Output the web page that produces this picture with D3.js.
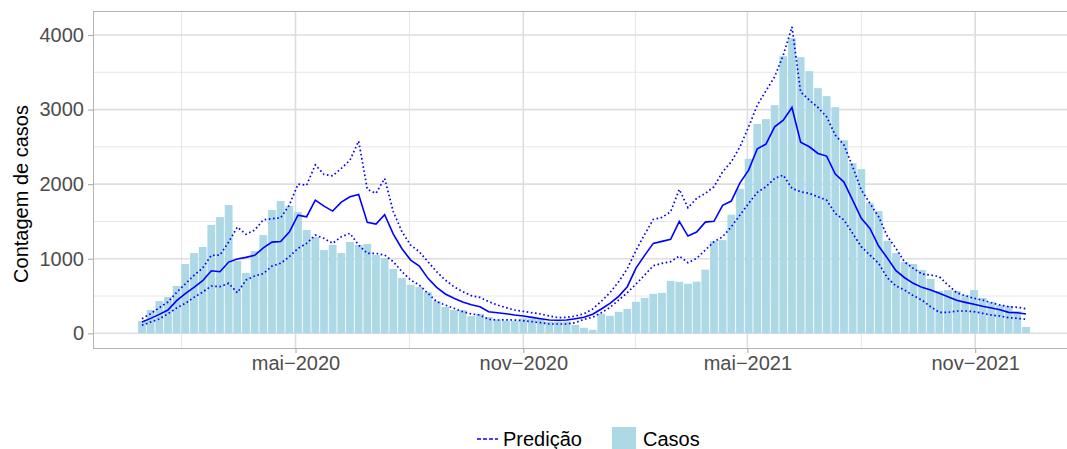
<!DOCTYPE html>
<html>
<head>
<meta charset="utf-8">
<script src="https://cdn.jsdelivr.net/npm/d3@7"></script>
<style>
  body { margin: 0; background: #fff; }
  text { font-family: "Liberation Sans", Arial, sans-serif; }
</style>
</head>
<body>
<div id="chart"></div>
<script>
// Data (weekly, epi weeks starting 2019-12-29)
const firstWeek = '2019-12-29';

const casos = [165, 312, 433, 487, 634, 929, 1076, 1157, 1452, 1559,
    1720, 969, 808, 1103, 1317, 1653, 1774, 1706, 1626, 1385,
    1291, 1117, 1184, 1076, 1224, 1184, 1197, 1050, 1010, 862,
    741, 648, 621, 554, 433, 353, 312, 312, 232, 259,
    219, 185, 170, 168, 200, 196, 196, 154, 158, 158,
    114, 74, 47, 261, 234, 288, 328, 422, 475, 529,
    542, 703, 690, 665, 692, 853, 1235, 1250, 1590, 1938,
    2340, 2807, 2872, 3059, 3716, 3957, 3703, 3515, 3287, 3180,
    3032, 2590, 2282, 2202, 1746, 1639, 1240, 1076, 956, 929,
    848, 728, 567, 580, 567, 513, 580, 473, 420, 380,
    366, 299, 85];

const predicao = [151, 200, 254, 312, 437, 531, 616, 705, 839, 825,
    955, 996, 1018, 1045, 1145, 1223, 1232, 1357, 1585, 1563,
    1786, 1706, 1639, 1759, 1831, 1862, 1487, 1465, 1590, 1331,
    1134, 982, 902, 737, 616, 527, 469, 420, 383, 356,
    290, 276, 263, 245, 232, 214, 196, 178, 174, 178,
    196, 214, 255, 326, 402, 496, 625, 875, 1045, 1206,
    1233, 1260, 1501, 1304, 1357, 1491, 1501, 1715, 1773, 2018,
    2188, 2475, 2537, 2769, 2858, 3028, 2563, 2501, 2412, 2376,
    2135, 2028, 1786, 1541, 1407, 1170, 1010, 839, 745, 670,
    616, 580, 536, 490, 442, 415, 389, 362, 339, 316,
    281, 276, 259];

const superior = [196, 263, 343, 420, 549, 661, 777, 875, 1045, 1049,
    1223, 1424, 1327, 1384, 1522, 1536, 1549, 1719, 2000, 1987,
    2259, 2130, 2112, 2211, 2322, 2577, 1930, 1876, 2077, 1630,
    1362, 1183, 1093, 960, 826, 714, 625, 558, 505, 482,
    424, 379, 345, 312, 294, 276, 259, 232, 210, 214,
    232, 263, 326, 429, 544, 692, 866, 1110, 1326, 1527,
    1554, 1630, 1930, 1683, 1809, 1876, 1965, 2166, 2300, 2501,
    2769, 3060, 3252, 3439, 3730, 4109, 3238, 3127, 3028, 2903,
    2658, 2524, 2233, 1921, 1742, 1563, 1300, 1139, 955, 871,
    795, 781, 759, 647, 544, 504, 469, 446, 410, 379,
    356, 348, 330];

const inferior = [107, 151, 192, 263, 339, 402, 482, 553, 634, 625,
    670, 544, 714, 768, 800, 902, 938, 1027, 1139, 1206,
    1317, 1273, 1206, 1295, 1340, 1183, 1072, 1072, 1049, 960,
    826, 714, 647, 536, 424, 379, 335, 290, 259, 245,
    188, 178, 180, 178, 169, 156, 142, 125, 125, 125,
    142, 188, 214, 276, 348, 446, 544, 660, 781, 906,
    938, 960, 1036, 946, 1005, 1116, 1228, 1295, 1429, 1585,
    1742, 1890, 1965, 2077, 2121, 1943, 1898, 1876, 1831, 1786,
    1608, 1519, 1340, 1161, 1049, 938, 745, 634, 580, 504,
    446, 356, 281, 281, 299, 299, 290, 268, 245, 232,
    210, 201, 188];

const xTickDates = ['2020-05-01', '2020-11-01', '2021-05-01', '2021-11-01'];
const xTickLabels = ['mai\u22122020', 'nov\u22122020', 'mai\u22122021', 'nov\u22122021'];
const yTicks = [0, 1000, 2000, 3000, 4000];
const legendLabels = ['Predi\u00e7\u00e3o', 'Casos'];

function draw() {
    const parse = d3.timeParse('%Y-%m-%d');
    const start = parse(firstWeek);
    const dataset = casos.map((c, i) => ({
        date: d3.timeWeek.offset(start, i),
        casos: c,
        pred: predicao[i],
        sup: superior[i],
        inf: inferior[i]
    }));

    // Dimensions
    let dimensions = {
        width: 1067,
        height: 449,
        panelLeft: 93,
        panelRight: 1075,
        panelTop: 11,
        panelBottom: 348
    };

    const svg = d3.select('#chart')
        .append('svg')
        .attr('width', dimensions.width)
        .attr('height', dimensions.height)
        .style('display', 'block');

    svg.append('rect')
        .attr('width', dimensions.width)
        .attr('height', dimensions.height)
        .attr('fill', '#fff');

    // Scales
    const tickDates = xTickDates.map(parse);
    const xScale = d3.scaleTime()
        .domain([tickDates[0], tickDates[3]])
        .range([295.5, 975.2]);

    const yScale = d3.scaleLinear()
        .domain([0, 4000])
        .range([333.3, 35]);

    // Grid
    const grid = svg.append('g');
    const majX = tickDates.map(d => xScale(d));
    const step = majX[1] - majX[0];
    const minX = [majX[0] - step / 2].concat(majX.map((x, i) => i < majX.length - 1 ? (x + majX[i + 1]) / 2 : x + step / 2));
    const minY = yTicks.map(v => v + 500).concat([-500]);

    grid.selectAll('line.minor-y')
        .data(minY.filter(v => yScale(v) > dimensions.panelTop && yScale(v) < dimensions.panelBottom))
        .join('line')
        .attr('x1', dimensions.panelLeft).attr('x2', dimensions.panelRight)
        .attr('y1', d => yScale(d)).attr('y2', d => yScale(d))
        .attr('stroke', '#e6e6e6').attr('stroke-width', 1);

    grid.selectAll('line.minor-x')
        .data(minX.filter(x => x > dimensions.panelLeft && x < dimensions.panelRight))
        .join('line')
        .attr('x1', d => d).attr('x2', d => d)
        .attr('y1', dimensions.panelTop).attr('y2', dimensions.panelBottom)
        .attr('stroke', '#e6e6e6').attr('stroke-width', 1);

    grid.append('g').selectAll('line')
        .data(yTicks)
        .join('line')
        .attr('x1', dimensions.panelLeft).attr('x2', dimensions.panelRight)
        .attr('y1', d => yScale(d)).attr('y2', d => yScale(d))
        .attr('stroke', '#dedede').attr('stroke-width', 1.6);

    grid.append('g').selectAll('line')
        .data(tickDates)
        .join('line')
        .attr('x1', d => xScale(d)).attr('x2', d => xScale(d))
        .attr('y1', dimensions.panelTop).attr('y2', dimensions.panelBottom)
        .attr('stroke', '#dedede').attr('stroke-width', 1.6);

    // Bars
    const barW = xScale(d3.timeHour.offset(tickDates[0], 24 * 6.3)) - xScale(tickDates[0]);
    svg.append('g')
        .selectAll('rect')
        .data(dataset)
        .join('rect')
        .attr('x', d => xScale(d.date) - barW / 2)
        .attr('y', d => yScale(d.casos))
        .attr('width', barW)
        .attr('height', d => yScale(0) - yScale(d.casos))
        .attr('fill', '#add8e6');

    // Lines
    const lineGen = key => d3.line()
        .x(d => xScale(d.date))
        .y(d => yScale(d[key]));

    const lines = svg.append('g').attr('fill', 'none').attr('stroke', '#0000ff');
    lines.append('path')
        .attr('d', lineGen('sup')(dataset))
        .attr('stroke-width', 1.7)
        .attr('stroke-dasharray', '1.6,2.6');
    lines.append('path')
        .attr('d', lineGen('inf')(dataset))
        .attr('stroke-width', 1.7)
        .attr('stroke-dasharray', '1.6,2.6');
    lines.append('path')
        .attr('d', lineGen('pred')(dataset))
        .attr('stroke-width', 1.6);

    // Panel border
    svg.append('rect')
        .attr('x', dimensions.panelLeft + 0.5)
        .attr('y', dimensions.panelTop + 0.5)
        .attr('width', dimensions.panelRight - dimensions.panelLeft)
        .attr('height', dimensions.panelBottom - dimensions.panelTop)
        .attr('fill', 'none')
        .attr('stroke', '#b3b3b3')
        .attr('stroke-width', 1);

    // Axes
    const yAxis = d3.axisLeft(yScale)
        .tickValues(yTicks)
        .tickFormat(d3.format('d'))
        .tickSize(5)
        .tickPadding(4);
    const yAxisGroup = svg.append('g')
        .attr('transform', `translate(${dimensions.panelLeft}, 0)`)
        .call(yAxis);

    const xAxis = d3.axisBottom(xScale)
        .tickValues(tickDates)
        .tickFormat((d, i) => xTickLabels[i])
        .tickSize(5)
        .tickPadding(3);
    const xAxisGroup = svg.append('g')
        .attr('transform', `translate(0, ${dimensions.panelBottom})`)
        .call(xAxis);

    [yAxisGroup, xAxisGroup].forEach(g => {
        g.select('.domain').remove();
        g.selectAll('.tick line').attr('stroke', '#b3b3b3').attr('stroke-width', 1.2);
        g.selectAll('.tick text')
            .attr('fill', '#4d4d4d')
            .style('font-size', '20px')
            .style('font-family', '"Liberation Sans", Arial, sans-serif');
    });

    // Axis title
    svg.append('text')
        .attr('transform', 'translate(28, 194) rotate(-90)')
        .attr('text-anchor', 'middle')
        .style('font-size', '20px')
        .attr('fill', '#000')
        .text('Contagem de casos');

    // Legend
    const legend = svg.append('g').attr('transform', 'translate(0, 439)');
    legend.append('line')
        .attr('x1', 477).attr('x2', 498)
        .attr('y1', 0).attr('y2', 0)
        .attr('stroke', '#0000ff')
        .attr('stroke-width', 1.6)
        .attr('stroke-dasharray', '4,2');
    legend.append('text')
        .attr('x', 503).attr('y', 7)
        .style('font-size', '20px')
        .text(legendLabels[0]);
    legend.append('rect')
        .attr('x', 612).attr('y', -12)
        .attr('width', 24).attr('height', 24)
        .attr('fill', '#add8e6');
    legend.append('text')
        .attr('x', 643).attr('y', 7)
        .style('font-size', '20px')
        .text(legendLabels[1]);
}

draw();
</script>
</body>
</html>
